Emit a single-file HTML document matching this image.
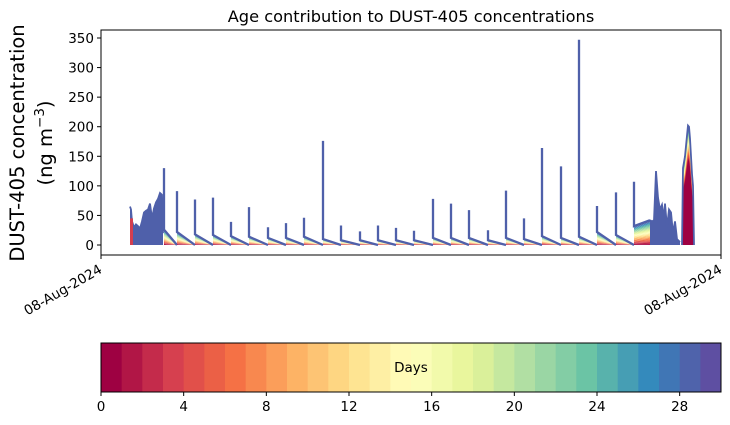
<!DOCTYPE html>
<html><head><meta charset="utf-8"><style>
html,body{margin:0;padding:0;background:#fff;}
svg{display:block;font-family:"DejaVu Sans","Liberation Sans",sans-serif;}
</style></head><body>
<svg id="chart" width="730" height="425" viewBox="0 0 730 425">
<text x="411" y="22" text-anchor="middle" font-size="16.2">Age contribution to DUST-405 concentrations</text>
<g>
<text transform="translate(24,143) rotate(-90)" text-anchor="middle" font-size="19.5">DUST-405 concentration</text>
<text transform="translate(52,143) rotate(-90)" text-anchor="middle" font-size="19.5">(ng m<tspan dy="-8" font-size="13.5">−3</tspan><tspan dy="8">)</tspan></text>
</g>
<g id="plot"></g>
<g id="yaxis"></g>
<g id="xaxis"></g>
<g id="cbar"></g>
</svg>
<script>
// data: time in hours from start, values in ng m-3
const spikeT = [63,76,94,112,130,148,167,185,203,222,240,259,277,295,313,332,350,368,387,405,423,441,460,478,496,515,533];
const spikeV = [130,91,77,80,39,64,30,37,46,176,33,23,33,29,24,78,70,59,25,92,45,164,133,347,66,89,107];
const segStart = [26,22,18,17,15,14,12,12,14,10,8,8,8,8,8,12,12,12,8,12,10,15,12,14,22,17,32];
const segEnd = [0,0,0,0,0,0,0,0,0,0,0,0,0,0,0,0,0,0,0,0,0,0,0,0,0,0,42];
const cluster1T = [29,30,31,33,35,37,39,41,43,45,47,49,51,53,55,57,59,61,62];
const cluster1V = [65,60,40,30,35,32,28,40,55,58,60,70,45,62,72,78,88,85,20];
const cluster2T = [549,551,553,555,557,559,561,563,564,566,568,570,572,574,576,579];
const cluster2V = [42,40,42,125,80,60,68,45,70,30,60,55,20,40,10,5];
const peakT = [581,582,584,586,587,588,589,591,592,593];
const peakV = [0,130,150,185,202,200,180,120,100,0];
const yTicks = [0,50,100,150,200,250,300,350];
const cbTicks = [0,4,8,12,16,20,24,28];
const xTickLabels = ["08-Aug-2024","08-Aug-2024"];

const NS="http://www.w3.org/2000/svg";
const X0=101,X1=721,Y0=30,Y1=255;
const tMax=620;
const LINE="#4f60aa";
const FS="13.5";
const xs=t=>X0+(t/tMax)*(X1-X0);
const ys=v=>245-v*(207/350);
const spec=["#9e0142","#d53e4f","#f46d43","#fdae61","#fee08b","#ffffbf","#e6f598","#abdda4","#66c2a5","#3288bd","#5e4fa2"];
function hex(h){return [1,3,5].map(i=>parseInt(h.substr(i,2),16));}
function cmap(f){const p=f*10,i=Math.min(9,Math.floor(p)),r=p-i;const a=hex(spec[i]),b=hex(spec[i+1]);return "rgb("+a.map((c,k)=>Math.round(c+(b[k]-c)*r)).join(",")+")";}
function el(tag,attrs,parent){const e=document.createElementNS(NS,tag);for(const k in attrs)e.setAttribute(k,attrs[k]);parent.appendChild(e);return e;}
const plot=document.getElementById('plot');
el('rect',{x:X0,y:Y0,width:X1-X0,height:Y1-Y0,fill:"#fff"},plot);
const N=30;
for(let i=0;i<spikeT.length;i++){
  const t0=spikeT[i],t1=(i+1<spikeT.length)?spikeT[i+1]:549;
  const s0=segStart[i],s1=segEnd[i];
  const g=el('g',{},plot);
  
  
  for(let k=0;k<N;k++){
    const a0=s0*k/N,a1=s0*(k+1)/N,b0=s1*k/N,b1=s1*(k+1)/N;
    const p=el('polygon',{points:`${xs(t0)},${ys(a0)} ${xs(t0)},${ys(a1)} ${xs(t1)},${ys(b1)} ${xs(t1)},${ys(b0)}`,fill:cmap(k/(N-1))},g);
    
    
  }
  const top=el('polyline',{points:`${xs(t0)},${ys(spikeV[i])} ${xs(t0)},${ys(s0)} ${xs(t1)},${ys(s1)}`,fill:"none",stroke:LINE,"stroke-width":2.3},g);
  
  
}
function area(T,V,name,redFrac){
  const g=el('g',{},plot);
  
  
  let pts=T.map((t,i)=>xs(t)+","+ys(V[i])).join(" ");
  const base=`${xs(T[T.length-1])},${ys(0)} ${xs(T[0])},${ys(0)}`;
  if(redFrac>0){
    for(let k=N-1;k>=0;k--){
      const p2=T.map((t,i)=>xs(t)+","+ys(V[i]*(k===N-1?1:(redFrac+(1-redFrac)*(k+1)/N)))).join(" ");
      const p=el('polygon',{points:p2+" "+base,fill:cmap(k/(N-1))},g);
      
      
    }
    const p=el('polygon',{points:T.map((t,i)=>xs(t)+","+ys(V[i]*redFrac)).join(" ")+" "+base,fill:"#9e0142"},g);
    
    
  } else {
    const p=el('polygon',{points:pts+" "+base,fill:LINE},g);
    
    
  }
  const l=el('polyline',{points:pts,fill:"none",stroke:LINE,"stroke-width":1.8},g);
  
  
}
area(cluster1T,cluster1V,'early-cluster',0);
el('rect',{x:xs(29),y:ys(45),width:3,height:ys(0)-ys(45),fill:"#d53e4f"},plot);
area(cluster2T,cluster2V,'late-cluster',0);
area(peakT,peakV,'final-peak',0.7);
el('rect',{x:X0,y:Y0,width:X1-X0,height:Y1-Y0,fill:"none",stroke:"#000","stroke-width":1},plot);
const ya=document.getElementById('yaxis');
yTicks.forEach(v=>{
  const l=el('line',{x1:X0-4,x2:X0,y1:ys(v),y2:ys(v),stroke:"#000"},ya);
  
  
  const t=el('text',{x:X0-7,y:ys(v)+5,"text-anchor":"end","font-size":FS},ya);
  t.textContent=v;
  
  
});
const xa=document.getElementById('xaxis');
[X0,X1].forEach((x,i)=>{
  el('line',{x1:x,x2:x,y1:Y1,y2:Y1+4,stroke:"#000"},xa);
  const t=el('text',{x:0,y:0,"text-anchor":"end","font-size":FS,transform:`translate(${x+2},${Y1+17}) rotate(-30)`},xa);
  t.textContent=xTickLabels[i];
  
  
});
const cb=document.getElementById('cbar');
const CX0=101,CX1=721,CY0=343,CY1=392;
for(let k=0;k<N;k++){
  const r=el('rect',{x:CX0+(CX1-CX0)*k/N,y:CY0,width:(CX1-CX0)/N+0.5,height:CY1-CY0,fill:cmap(k/(N-1))},cb);
  
  
}
el('rect',{x:CX0,y:CY0,width:CX1-CX0,height:CY1-CY0,fill:"none",stroke:"#000"},cb);
const dl=el('text',{x:411,y:372,"text-anchor":"middle","font-size":FS},cb);
dl.textContent="Days";


cbTicks.forEach(v=>{
  const x=CX0+(CX1-CX0)*v/30;
  el('line',{x1:x,x2:x,y1:CY1,y2:CY1+4,stroke:"#000"},cb);
  const t=el('text',{x:x,y:CY1+19,"text-anchor":"middle","font-size":FS},cb);
  t.textContent=v;
  
  
});
</script>
</body></html>
